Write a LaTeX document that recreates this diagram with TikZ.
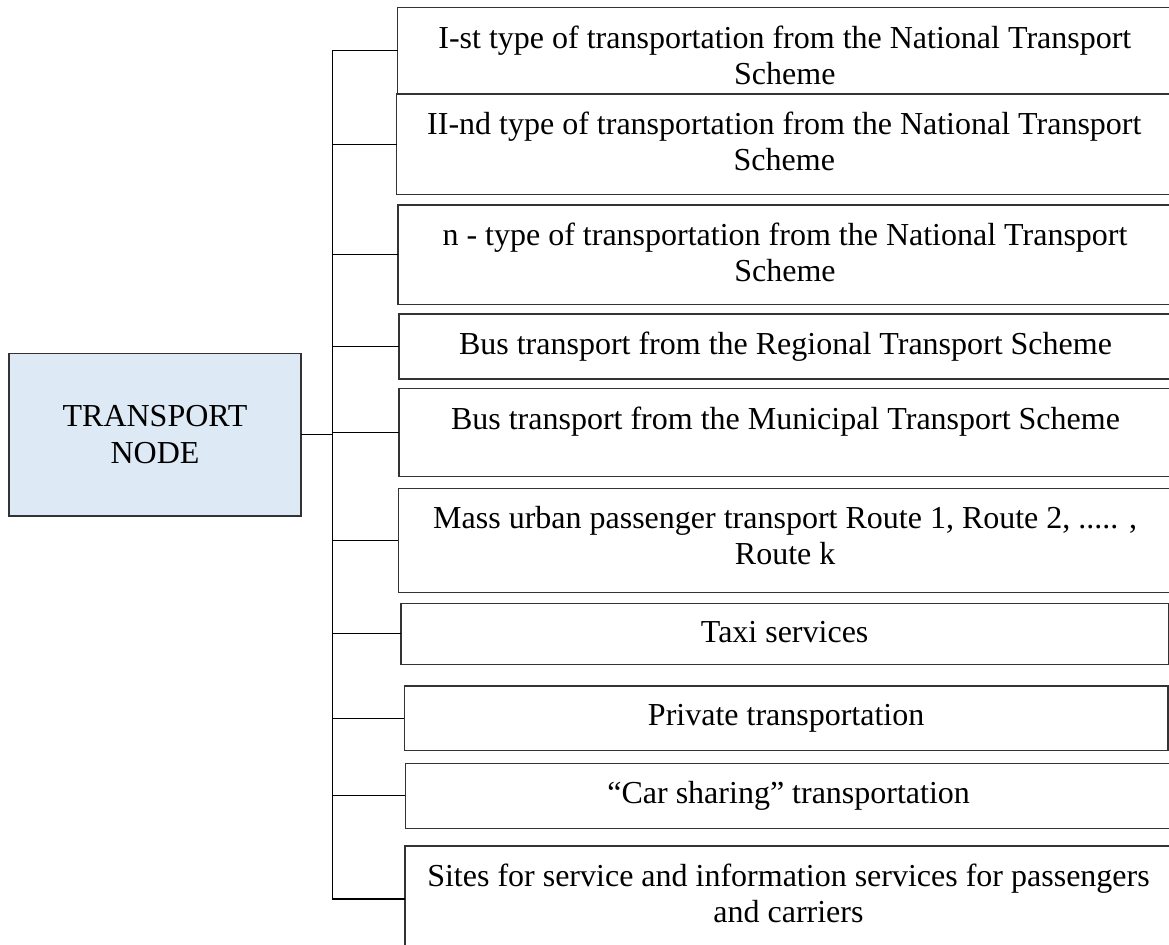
\documentclass[tikz,border=0pt]{standalone}
\usepackage{fontspec}
\setmainfont{Liberation Serif}
\usetikzlibrary{positioning}
\definecolor{nodeblue}{RGB}{222,233,246}
\begin{document}
\begin{tikzpicture}[x=0.5pt,y=-0.5pt,
    box/.style={draw=black!80, line width=0.6pt, anchor=north west, inner sep=0pt, outer sep=0pt},
    boxtext/.style={align=center, inner sep=0pt, font=\fontsize{16}{17.9}\selectfont},
    link/.style={line width=0.6pt}]
  \useasboundingbox (0,0) rectangle (1169,944);

  % draw main node
  \node[box, fill=nodeblue, minimum width=146pt, minimum height=81.35pt, boxtext, inner sep=0pt] (tnode) at (9,353.3) {TRANSPORT\\[0.8pt]NODE};

  % draw boxes
  \foreach \n/\l/\t/\b/\r/\txt in {
      1/397.7/7.3/94/1172/{I-st type of transportation from the National Transport\\Scheme},
      2/396.7/94/194.3/1172/{II-nd type of transportation from the National Transport\\Scheme},
      3/398/205/304.3/1172/{n - type of transportation from the National Transport\\Scheme},
      4/399/314/379/1172/{Bus transport from the Regional Transport Scheme},
      5/399/388.3/476.7/1172/{Bus transport from the Municipal Transport Scheme},
      6/398.3/488.3/592.7/1172/{Mass urban passenger transport Route 1, Route 2, ..... ,\\Route k},
      7/401/603.3/664.3/1168.3/{Taxi services},
      8/404.3/686/750.7/1168/{Private transportation},
      9/405.3/763.3/828.3/1172/{“Car sharing” transportation},
      10/405/846/952/1172/{Sites for service and information services for passengers\\and carriers}}
  {
    \node[box, minimum width={(\r-\l)*0.5pt}, minimum height={(\b-\t)*0.5pt}] (b\n) at (\l,\t) {};
    \node[boxtext, below=9pt of b\n.north] (t\n) {\txt};
  }

  % draw trunk line
  \coordinate (trunk) at (332.3,0);
  \draw[link] (b1.west -| trunk) -- (b10.west -| trunk);
  \draw[link] (tnode.east) -- (tnode.east -| trunk);

  % draw branches
  \foreach \n in {1,...,10}
    \draw[link] (b\n.west -| trunk) -- (b\n.west);
\end{tikzpicture}
\end{document}
